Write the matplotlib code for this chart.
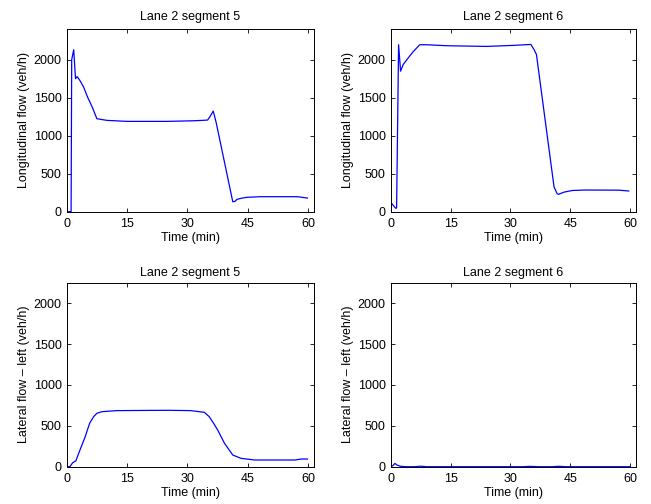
import matplotlib
matplotlib.use('Agg')
import matplotlib.pyplot as plt

plt.rcParams['font.family'] = ['Liberation Sans', 'DejaVu Sans']
plt.rcParams['font.size'] = 9

# Longitudinal flow, lane 2 segment 5
t_lon5 = [0, 1.1, 1.25, 1.75, 2.2, 2.6, 3.3, 4.2, 5.2, 6.4, 7.5, 10, 15, 25, 31,
          33.3, 35, 35.6, 36.4, 37.1, 41.25, 41.8, 42.3, 43.5, 44.8, 48.1, 57.3,
          59.8]
v_lon5 = [0, 0, 2000, 2130, 1750, 1777, 1725, 1640, 1507, 1370, 1223, 1201, 1188,
          1188, 1195, 1200, 1205, 1250, 1323, 1180, 131, 135, 162, 178, 189, 197,
          197, 179]

# Longitudinal flow, lane 2 segment 6
t_lon6 = [0, 0.25, 0.7, 1.3, 1.5, 2.0, 2.5, 3.15, 4.4, 5.5, 6.5, 7.3, 9, 14, 24,
          30.5, 35.1, 35.9, 36.5, 40.9, 41.7, 42.0, 43.4, 45.5, 48.8, 57.1, 59.6]
v_lon6 = [0, 110, 80, 44, 50, 2196, 1848, 1935, 2022, 2095, 2152, 2196, 2196,
          2183, 2174, 2187, 2200, 2132, 2067, 326, 235, 228, 257, 279, 285, 283,
          272]

# Lateral flow (left), lane 2 segment 5
t_lat5 = [0, 0.8, 1.5, 2.3, 3.3, 4.6, 5.7, 6.7, 7.5, 8.75, 12.5, 25, 30.8, 34.2,
          35.4, 36.5, 37.5, 39.2, 41.25, 43.3, 46.7, 55, 56.7, 58.3, 59.8]
v_lat5 = [0, 0, 49, 73, 204, 367, 531, 612, 653, 673, 686, 690, 686, 665, 612,
          530, 449, 286, 143, 102, 82, 82, 82, 94, 94]

# Lateral flow (left), lane 2 segment 6
t_lat6 = [0, 0.5, 1.1, 1.6, 2.5, 4, 6, 7.5, 9, 33, 35, 37, 40.5, 42, 44, 60]
v_lat6 = [0, 10, 40, 20, 5, 0, 0, 6, 0, 0, 4, 0, 0, 5, 0, 0]

panels = [
    (t_lon5, v_lon5, 'Lane 2 segment 5', 'Longitudinal flow (veh/h)', 2400, 7,
     [0.1024, 0.580, 0.3804, 0.362]),
    (t_lon6, v_lon6, 'Lane 2 segment 6', 'Longitudinal flow (veh/h)', 2400, 7,
     [0.600, 0.580, 0.3775, 0.362]),
    (t_lat5, v_lat5, 'Lane 2 segment 5', 'Lateral flow \u2013 left (veh/h)', 2250, 5,
     [0.1024, 0.074, 0.3804, 0.365]),
    (t_lat6, v_lat6, 'Lane 2 segment 6', 'Lateral flow \u2013 left (veh/h)', 2250, 5,
     [0.600, 0.074, 0.3775, 0.365]),
]

fig = plt.figure(figsize=(6.51, 5.04), dpi=100)

for t, v, title, ylabel, ymax, tpad, pos in panels:
    ax = fig.add_axes(pos)
    ax.plot(t, v, color='#0000ff', linewidth=0.9)
    ax.set_xlim(0, 61.5)
    ax.set_ylim(0, ymax)
    ax.set_xticks([0, 15, 30, 45, 60])
    ax.set_yticks([0, 500, 1000, 1500, 2000])
    ax.tick_params(direction='in', top=True, right=True, length=3, width=0.6)
    ax.tick_params(axis='x', pad=4.5)
    ax.tick_params(axis='y', pad=3.5)
    for s in ax.spines.values():
        s.set_linewidth(0.7)
    ax.set_title(title, fontsize=9, pad=tpad)
    ax.set_xlabel('Time (min)', labelpad=1.5)
    ax.set_ylabel(ylabel, labelpad=3)

fig.savefig('out.png', dpi=100)
